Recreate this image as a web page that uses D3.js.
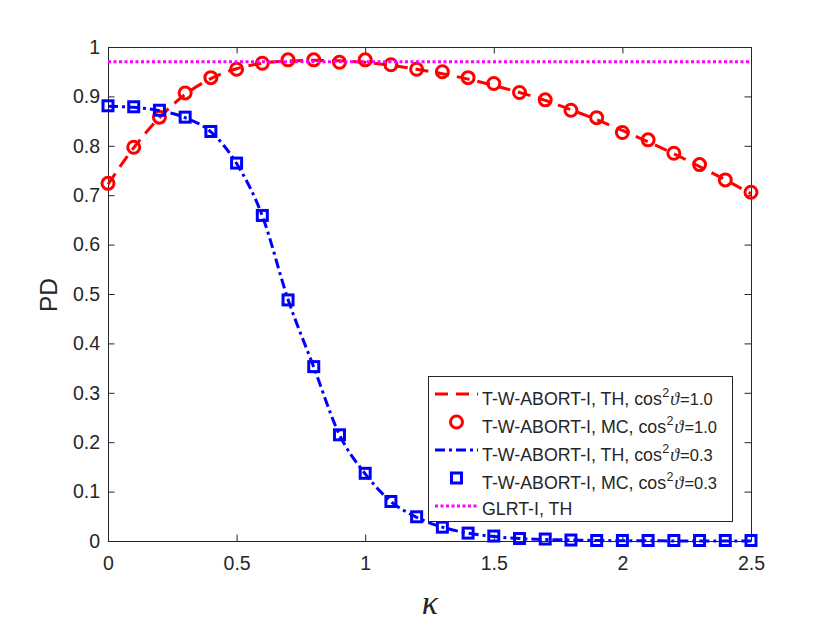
<!DOCTYPE html>
<html><head><meta charset="utf-8">
<script src="https://cdn.jsdelivr.net/npm/d3@7"></script>
<style>
body{margin:0;background:#fff}
text{font-family:"Liberation Sans",Arial,Helvetica,sans-serif;fill:#262626}
</style>
</head><body>
<svg id="chart" width="830" height="623"></svg>
<script>
// ---- data ----
const kappa = [0,0.1,0.2,0.3,0.4,0.5,0.6,0.7,0.8,0.9,1.0,1.1,1.2,1.3,1.4,1.5,1.6,1.7,1.8,1.9,2.0,2.1,2.2,2.3,2.4,2.5];
const pdTH10 = [0.722,0.796,0.857,0.904,0.936,0.956,0.967,0.972,0.973,0.972,0.969,0.963,0.955,0.946,0.935,0.922,0.908,0.892,0.873,0.853,0.831,0.808,0.784,0.758,0.731,0.703];
const pdMC10 = [0.724,0.797,0.858,0.907,0.938,0.955,0.967,0.974,0.974,0.969,0.974,0.964,0.955,0.950,0.938,0.926,0.908,0.893,0.872,0.857,0.827,0.812,0.785,0.762,0.731,0.706];
const pdTH03 = [0.880,0.878,0.871,0.857,0.828,0.764,0.658,0.489,0.352,0.215,0.136,0.080,0.048,0.028,0.016,0.009,0.005,0.003,0.002,0.001,0.0006,0.0004,0.0002,0.0001,0.0001,0.0001];
const pdMC03 = [0.881,0.879,0.872,0.858,0.829,0.765,0.659,0.488,0.353,0.215,0.137,0.080,0.049,0.028,0.016,0.010,0.005,0.004,0.002,0.001,0.001,0.001,0.001,0.001,0.001,0.001];
const glrtK = [0,2.5];
const glrtTH = [0.97,0.97];
const xTicks = [0,0.5,1,1.5,2,2.5];
const yTicks = [0,0.1,0.2,0.3,0.4,0.5,0.6,0.7,0.8,0.9,1];
const legendNames = ["T-W-ABORT-I, TH, ","T-W-ABORT-I, MC, ","T-W-ABORT-I, TH, ","T-W-ABORT-I, MC, ","GLRT-I, TH"];
const legendCos = ["1.0","1.0","0.3","0.3",null];

// ---- layout ----
const svg = d3.select("#chart");
const L = 108, T = 47, W = 643, H = 494;
const x = d3.scaleLinear().domain([0,2.5]).range([L, L+W]);
const y = d3.scaleLinear().domain([0,1]).range([T+H, T]);
const axisColor = "#262626";

function styleAxis(g){
  g.attr("font-family",null).attr("font-size",null);
  g.selectAll("path.domain").attr("stroke",axisColor).attr("stroke-width",1);
  g.selectAll(".tick line").attr("stroke",axisColor).attr("stroke-width",1);
  g.selectAll(".tick text").style("font-size","19.5px").attr("fill",axisColor);
}
svg.append("g").attr("transform",`translate(0,${T+H})`)
  .call(d3.axisBottom(x).tickValues(xTicks).tickFormat(d3.format("")).tickSize(-6.5).tickSizeOuter(0).tickPadding(15)).call(styleAxis);
svg.append("g").attr("transform",`translate(0,${T})`)
  .call(d3.axisTop(x).tickValues(xTicks).tickFormat("").tickSize(-6.5).tickSizeOuter(0)).call(styleAxis);
svg.append("g").attr("transform",`translate(${L},0)`)
  .call(d3.axisLeft(y).tickValues(yTicks).tickFormat(d3.format("")).tickSize(-6.5).tickSizeOuter(0).tickPadding(8)).call(styleAxis);
svg.append("g").attr("transform",`translate(${L+W},0)`)
  .call(d3.axisRight(y).tickValues(yTicks).tickFormat("").tickSize(-6.5).tickSizeOuter(0)).call(styleAxis);

// axis labels
svg.append("text").attr("transform","translate(57,295) rotate(-90)").attr("text-anchor","middle")
  .style("font-size","24.5px").text("PD");
svg.append("text").attr("x",430).attr("y",614).attr("text-anchor","middle")
  .style("font-family","'Liberation Serif','DejaVu Serif',serif").style("font-style","italic").style("font-size","34px").text("κ");

// ---- series ----
const lineGen = (xs, ys) => d3.line().x((d,i)=>x(xs[i])).y(d=>y(d)).curve(d3.curveMonotoneX)(ys);
const red = "#ff0000", blue = "#0000ff", magenta = "#ff00ff";

svg.append("path").attr("d", lineGen(kappa, pdTH10)).attr("fill","none").attr("stroke",red)
  .attr("stroke-width",3).attr("stroke-dasharray","13,8");
svg.append("g").selectAll("circle").data(pdMC10).join("circle")
  .attr("cx",(d,i)=>x(kappa[i])).attr("cy",d=>y(d)).attr("r",6)
  .attr("fill","none").attr("stroke",red).attr("stroke-width",3);

svg.append("path").attr("d", lineGen(kappa, pdTH03)).attr("fill","none").attr("stroke",blue)
  .attr("stroke-width",3).attr("stroke-dasharray","10,4,3,4");
svg.append("g").selectAll("rect").data(pdMC03).join("rect")
  .attr("x",(d,i)=>x(kappa[i])-5).attr("y",d=>y(d)-5).attr("width",10).attr("height",10)
  .attr("fill","none").attr("stroke",blue).attr("stroke-width",3);

svg.append("path").attr("d", lineGen(glrtK, glrtTH)).attr("fill","none").attr("stroke",magenta)
  .attr("stroke-width",3).attr("stroke-dasharray","3,2.5");

// ---- legend ----
const lg = svg.append("g");
lg.append("rect").attr("x",428.5).attr("y",376.5).attr("width",304).attr("height",145)
  .attr("fill","#fff").attr("stroke",axisColor).attr("stroke-width",1);
const styles = [
  {type:"line", color:red, dash:"13,8"},
  {type:"circle", color:red},
  {type:"line", color:blue, dash:"10,4,3,4"},
  {type:"square", color:blue},
  {type:"line", color:magenta, dash:"3,2.5"}
];
styles.forEach((s,i)=>{
  const sy = 394 + i*28, ty = 405 + i*28 - (i===4?2:0);
  if (s.type==="line") {
    lg.append("line").attr("x1",435).attr("x2",478).attr("y1",sy).attr("y2",sy)
      .attr("stroke",s.color).attr("stroke-width",3).attr("stroke-dasharray",s.dash);
  } else if (s.type==="circle") {
    lg.append("circle").attr("cx",456.5).attr("cy",sy).attr("r",6).attr("fill","none").attr("stroke",s.color).attr("stroke-width",3);
  } else {
    lg.append("rect").attr("x",451.5).attr("y",sy-5).attr("width",10).attr("height",10).attr("fill","none").attr("stroke",s.color).attr("stroke-width",3);
  }
  const t = lg.append("text").attr("x",482).attr("y",ty).style("font-size","17.8px");
  t.append("tspan").text(legendNames[i]+(legendCos[i]?"cos":""));
  if (legendCos[i]) {
    t.append("tspan").attr("dy",-8).attr("dx",0.5).style("font-size","12.5px").text("2");
    t.append("tspan").attr("dy",8).attr("dx",1).style("font-family","'Liberation Serif','DejaVu Serif',serif").style("font-style","italic").style("font-size","18px").text("ϑ");
    t.append("tspan").attr("dx",1).style("font-size","16.5px").text("=" + legendCos[i]);
  }
});
</script>
</body></html>
